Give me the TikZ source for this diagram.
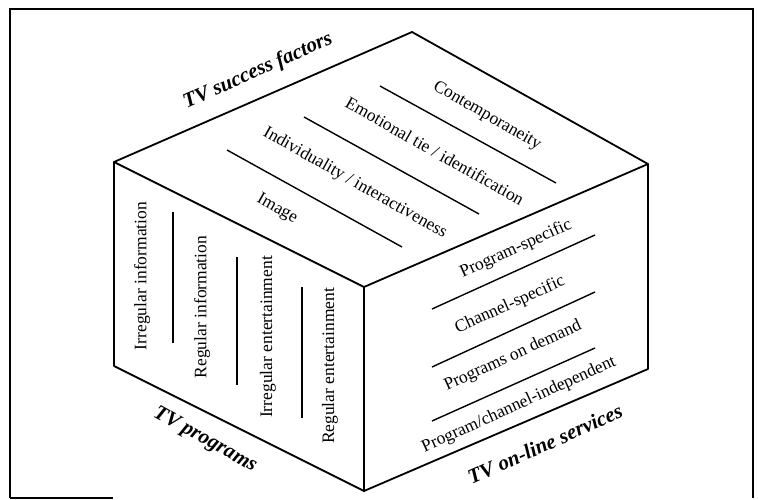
\documentclass[tikz,border=0pt]{standalone}
\usepackage{fontspec}
\setmainfont{Liberation Serif}
\begin{document}
\begin{tikzpicture}[x=1pt,y=-1pt,
  edge/.style={line width=1.8pt, line join=round, line cap=round},
  sep/.style={line width=1.4pt},
  frame/.style={line width=2.4pt},
  item/.style={font=\fontsize{17.5}{18}\selectfont, inner sep=0pt},
  facelabel/.style={font=\fontsize{21}{22}\selectfont\bfseries\itshape, inner sep=0pt}]
\useasboundingbox (0,0) rectangle (758,500);
% frame
\coordinate (F1) at (10,498);
\coordinate (F2) at (10,9);
\coordinate (F3) at (753,9);
\coordinate (F4) at (753,498);
\coordinate (F5) at (113,498);
\draw[frame] (F1) -- (F2) -- (F3) -- (F4);
\draw[line width=1.6pt] (F1) -- (F5);
% cube vertices
\coordinate (T) at (412,32);
\coordinate (L) at (114,162);
\coordinate (C) at (364,287);
\coordinate (R) at (648,164);
\coordinate (LB) at (114,366);
\coordinate (CB) at (364,491);
\coordinate (RB) at (648,369);
\draw[edge] (L) -- (T) -- (R) -- (RB) -- (CB) -- (LB) -- cycle;
\draw[edge] (L) -- (C) -- (R);
\draw[edge] (C) -- (CB);
% top face separators
\coordinate (ta1) at (380,86);  \coordinate (ta2) at (556,183);
\coordinate (tb1) at (304,117); \coordinate (tb2) at (479,214);
\coordinate (tc1) at (227,150); \coordinate (tc2) at (402,247);
\draw[sep] (ta1) -- (ta2);
\draw[sep] (tb1) -- (tb2);
\draw[sep] (tc1) -- (tc2);
% left face separators
\coordinate (la1) at (173,212); \coordinate (la2) at (173,343);
\coordinate (lb1) at (237,257); \coordinate (lb2) at (237,385);
\coordinate (lc1) at (302,287); \coordinate (lc2) at (302,418);
\draw[sep] (la1) -- (la2);
\draw[sep] (lb1) -- (lb2);
\draw[sep] (lc1) -- (lc2);
% right face separators
\coordinate (ra1) at (432,309); \coordinate (ra2) at (595,235);
\coordinate (rb1) at (432,367); \coordinate (rb2) at (595,292);
\coordinate (rc1) at (432,421); \coordinate (rc2) at (595,348);
\draw[sep] (ra1) -- (ra2);
\draw[sep] (rb1) -- (rb2);
\draw[sep] (rc1) -- (rc2);
% top face texts
\node[item, rotate=-30] (t1) at (487,116) {Contemporaneity};
\node[item, rotate=-29.5] (t2) at (435,151) {Emotional tie / identification};
\node[item, rotate=-29.5] (t3) at (355,183) {Individuality / interactiveness};
\node[item, rotate=-29.5] (t4) at (277,209) {Image};
% left face texts
\node[item, rotate=90] (l1) at (142,276) {Irregular information};
\node[item, rotate=90] (l2) at (202,307) {Regular information};
\node[item, rotate=90] (l3) at (268,337) {Irregular entertainment};
\node[item, rotate=90] (l4) at (330,366) {Regular entertainment};
% right face texts
\node[item, rotate=24.4] (r1) at (516,249) {Program-specific};
\node[item, rotate=24.4] (r2) at (510,305) {Channel-specific};
\node[item, rotate=24.4] (r3) at (513,356) {Programs on demand};
\node[item, rotate=24.4] (r4) at (519,405) {Program/channel-independent};
% face labels
\node[facelabel, rotate=24] (sf) at (258,71) {TV success factors};
\node[facelabel, rotate=-29] (tp) at (205,440) {TV programs};
\node[facelabel, rotate=24] (os) at (545,444) {TV on-line services};
\end{tikzpicture}
\end{document}
